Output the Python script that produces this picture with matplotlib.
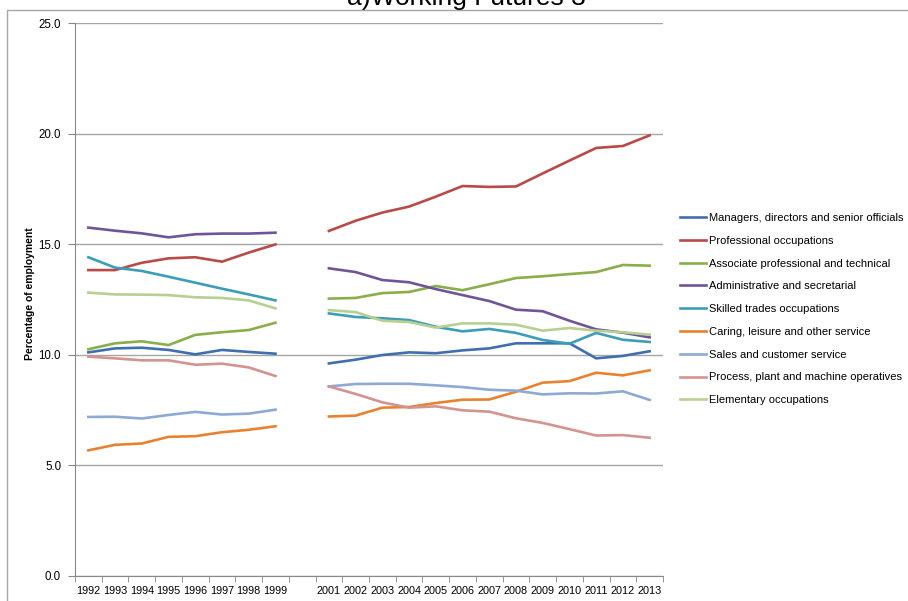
import numpy as np
import matplotlib
matplotlib.use("Agg")
import matplotlib.pyplot as plt
from matplotlib.patches import Rectangle

plt.rcParams['font.family'] = ['Liberation Sans', 'DejaVu Sans']

nan = np.nan
years = ['1992', '1993', '1994', '1995', '1996', '1997', '1998', '1999', '',
         '2001', '2002', '2003', '2004', '2005', '2006', '2007', '2008', '2009',
         '2010', '2011', '2012', '2013']

managers = [10.11, 10.29, 10.32, 10.22, 10.02, 10.22, 10.13, 10.05, nan,
            9.61, 9.78, 9.99, 10.11, 10.07, 10.20, 10.29, 10.52, 10.52, 10.52, 9.84, 9.95, 10.16]
professional = [13.83, 13.83, 14.16, 14.36, 14.41, 14.21, 14.62, 14.99, nan,
                15.60, 16.06, 16.43, 16.70, 17.15, 17.63, 17.59, 17.61, 18.20, 18.78, 19.35, 19.44, 19.92]
associate = [10.25, 10.52, 10.61, 10.44, 10.90, 11.02, 11.12, 11.45, nan,
             12.54, 12.57, 12.79, 12.84, 13.11, 12.92, 13.19, 13.47, 13.55, 13.65, 13.74, 14.06, 14.03]
admin = [15.75, 15.61, 15.49, 15.31, 15.45, 15.48, 15.48, 15.52, nan,
         13.91, 13.74, 13.38, 13.28, 12.97, 12.70, 12.43, 12.04, 11.97, 11.54, 11.15, 11.00, 10.79]
skilled = [14.41, 13.94, 13.79, 13.53, 13.26, 12.99, 12.73, 12.46, nan,
           11.87, 11.71, 11.65, 11.57, 11.27, 11.06, 11.17, 10.99, 10.67, 10.50, 10.99, 10.68, 10.58]
caring = [5.68, 5.93, 5.99, 6.29, 6.32, 6.50, 6.61, 6.77, nan,
          7.21, 7.25, 7.61, 7.64, 7.82, 7.97, 7.98, 8.33, 8.74, 8.81, 9.19, 9.07, 9.30]
sales = [7.19, 7.20, 7.12, 7.28, 7.42, 7.30, 7.34, 7.52, nan,
         8.57, 8.68, 8.69, 8.69, 8.62, 8.54, 8.42, 8.38, 8.21, 8.26, 8.25, 8.35, 7.96]
process = [9.92, 9.84, 9.75, 9.75, 9.55, 9.60, 9.43, 9.04, nan,
           8.57, 8.23, 7.85, 7.61, 7.67, 7.49, 7.43, 7.13, 6.92, 6.64, 6.35, 6.37, 6.25]
elementary = [12.81, 12.73, 12.72, 12.70, 12.60, 12.57, 12.46, 12.10, nan,
              12.02, 11.93, 11.54, 11.48, 11.23, 11.42, 11.42, 11.36, 11.09, 11.21, 11.09, 11.02, 10.91]

labels = ['Managers, directors and senior officials', 'Professional occupations',
          'Associate professional and technical', 'Administrative and secretarial',
          'Skilled trades occupations', 'Caring, leisure and other service',
          'Sales and customer service', 'Process, plant and machine operatives',
          'Elementary occupations']
series = [managers, professional, associate, admin, skilled, caring, sales, process, elementary]
colors = ['#3F6FAE', '#B84A47', '#8AAE4A', '#6F5597', '#3C9DB8', '#E98230',
          '#8EA9D3', '#D39391', '#B8CF92']

fig = plt.figure(figsize=(9.08, 6.01), dpi=100)
ax = fig.add_axes([75/908, 25/601, 588/908, 553/601])

x = np.arange(len(years))
for vals, lab, c in zip(series, labels, colors):
    ax.plot(x, vals, color=c, lw=1.9, label=lab, solid_joinstyle='round')

ax.set_xlim(-0.5, len(years) - 0.5)
ax.set_ylim(0, 25)
ax.set_yticks(np.arange(0, 26, 5))
ax.set_yticklabels(['%.1f' % v for v in np.arange(0, 26, 5)], fontsize=8.3)
ax.set_xticks(x)
ax.set_xticklabels(years, fontsize=7.8)
ax.set_xticks(np.arange(-0.5, len(years)), minor=True)
ax.tick_params(axis='x', which='major', length=0, pad=7)
ax.tick_params(axis='x', which='minor', length=4, color='#888888', direction='out')
ax.tick_params(axis='y', length=5, color='#888888', pad=5)
ax.grid(axis='y', color='#A6A6A6', lw=1)
ax.set_axisbelow(True)
for s in ['top', 'right']:
    ax.spines[s].set_visible(False)
for s in ['left', 'bottom']:
    ax.spines[s].set_color('#888888')

ax.set_ylabel('Percentage of employment', fontsize=7.5, fontweight='bold')
ax.yaxis.set_label_coords(-40/588, 0.51)

ax.legend(loc='upper left', bbox_to_anchor=(680/908, 1 - 213/601), bbox_transform=fig.transFigure,
          frameon=False, fontsize=8.0, handlelength=2.3, handletextpad=0.3,
          labelspacing=1.15, borderpad=0, borderaxespad=0)

fig.text(466/908, 1 - 5/601, 'a)Working Futures 3', ha='center', va='baseline', fontsize=19)
fig.patches.append(Rectangle((7/908, -0.1), 1.2, 1 - 9.5/601 + 0.1, transform=fig.transFigure,
                             fill=False, ec='#A6A6A6', lw=1))

fig.savefig('out.png', dpi=100)
